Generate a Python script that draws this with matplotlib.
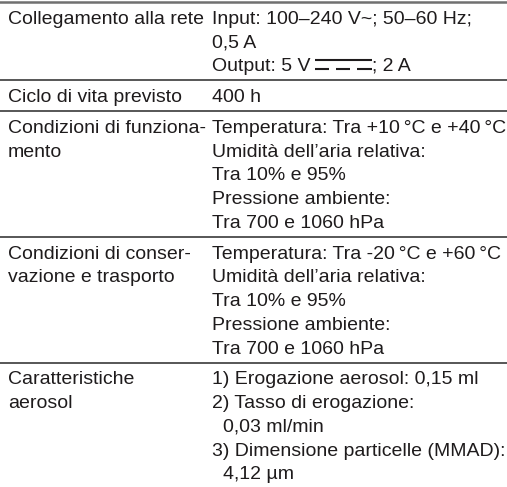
import matplotlib
matplotlib.use('Agg')
import matplotlib.pyplot as plt

# Table content: one label (left) and one value (right) block per row
labels = [
    ['Collegamento alla rete'],
    ['Ciclo di vita previsto'],
    ['Condizioni di funziona-', 'mento'],
    ['Condizioni di conser-', 'vazione e trasporto'],
    ['Caratteristiche', 'aerosol'],
]
values = [
    ['Input: 100\u2013240 V~; 50\u201360 Hz;', '0,5 A', 'Output: 5 V{dc}; 2 A'],
    ['400 h'],
    ['Temperatura: Tra +10\u2009°C e +40\u2009°C', 'Umidità dell\u2019aria relativa:',
     'Tra 10% e 95%', 'Pressione ambiente:', 'Tra 700 e 1060 hPa'],
    ['Temperatura: Tra -20\u2009°C e +60\u2009°C', 'Umidità dell\u2019aria relativa:',
     'Tra 10% e 95%', 'Pressione ambiente:', 'Tra 700 e 1060 hPa'],
    ['1) Erogazione aerosol: 0,15 ml', '2) Tasso di erogazione:', '  0,03 ml/min',
     '3) Dimensione particelle (MMAD):', '  4,12 µm'],
]

W, H = 507, 487
fig = plt.figure(figsize=(W / 100, H / 100), dpi=100)
ax = fig.add_axes([0, 0, 1, 1])
ax.set_xlim(0, W)
ax.set_ylim(H, 0)
ax.axis('off')

txt_col = '#1e1b1c'
fs = 14
lh = 23.7
col1, col2 = 8, 212
font = dict(fontsize=fs, family='Liberation Sans', color=txt_col, va='baseline')

renderer = fig.canvas.get_renderer()
inv = ax.transData.inverted()


def put(x, y, s):
    indent = 0
    if s.startswith('  '):
        s = s.strip()
        indent = 11
    if '{dc}' not in s:
        ax.text(x + indent, y, s, **font)
        return
    # direct current sign: solid bar over three dashes
    a, b = s.split('{dc}')
    t = ax.text(x, y, a, **font)
    bb = t.get_window_extent(renderer)
    x0 = inv.transform((bb.x1, 0))[0] + 4
    w = 57
    ax.plot([x0, x0 + w], [y - 11, y - 11], color=txt_col, lw=1.5, solid_capstyle='butt')
    gap = 7
    dw = (w - 2 * gap) / 3
    for k in range(3):
        xs = x0 + k * (dw + gap)
        ax.plot([xs, xs + dw], [y - 2, y - 2], color=txt_col, lw=1.5, solid_capstyle='butt')
    ax.text(x0 + w + 1, y, b, **font)


y = 1.5
ax.plot([0, W], [y, y], color='#707070', lw=1.8)
for lab, val in zip(labels, values):
    n = max(len(lab), len(val))
    for i, s in enumerate(lab):
        put(col1, y + 16 + i * lh + 6, s)
    for i, s in enumerate(val):
        put(col2, y + 16 + i * lh + 6, s)
    y = y + (n - 1) * lh + 31
    if y < H - 5:
        ax.plot([0, W], [y, y], color='#3a3a3a', lw=1.2)

fig.savefig('out.png', dpi=100)
